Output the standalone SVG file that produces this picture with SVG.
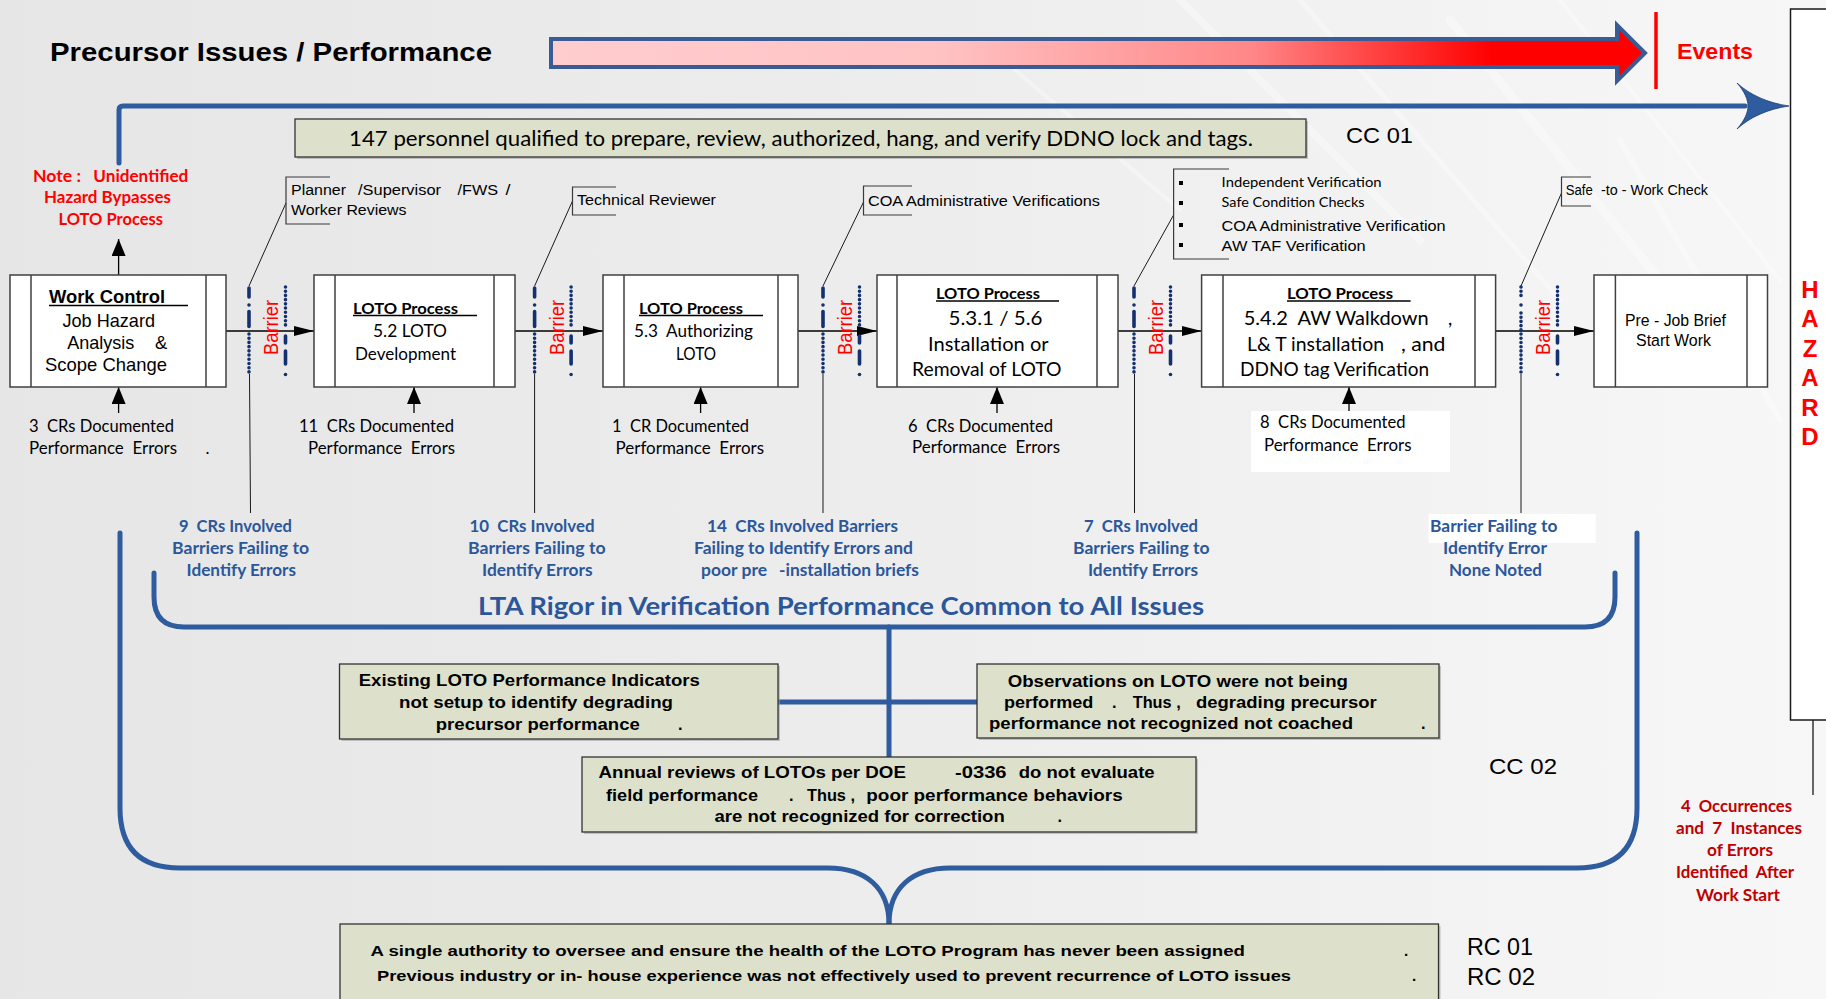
<svg xmlns="http://www.w3.org/2000/svg" width="1826" height="999" viewBox="0 0 1826 999">
  <defs>
    <linearGradient id="bgGrad" x1="0" y1="0" x2="1" y2="0">
      <stop offset="0" stop-color="#E6E6E6"/>
      <stop offset="0.5" stop-color="#EDEDED"/>
      <stop offset="1" stop-color="#F7F7F7"/>
    </linearGradient>
    <linearGradient id="eventGrad" gradientUnits="userSpaceOnUse" x1="551" y1="0" x2="1645" y2="0">
      <stop offset="0" stop-color="#FFCDCF"/>
      <stop offset="0.35" stop-color="#FFC3C4"/>
      <stop offset="0.64" stop-color="#FF8788"/>
      <stop offset="0.86" stop-color="#FF0000"/>
      <stop offset="1" stop-color="#FF0000"/>
    </linearGradient>
    <marker id="headH" viewBox="0 0 20 10" refX="20" refY="5" markerWidth="20" markerHeight="10" markerUnits="userSpaceOnUse" orient="auto">
      <path d="M0,0 L20,5 L0,10 Z" fill="#000"/>
    </marker>
    <marker id="headV" viewBox="0 0 17 14" refX="17" refY="7" markerWidth="17" markerHeight="14" markerUnits="userSpaceOnUse" orient="auto">
      <path d="M0,0 L17,7 L0,14 Z" fill="#000"/>
    </marker>
  </defs>
  <style>
    text { white-space: pre; }
    .ar { font-family: "Liberation Sans", Arial, sans-serif; }
    .ca { font-family: Lato, "Open Sans", sans-serif; }
    .b { font-weight: 700; }
    .box { fill: #FFFFFF; stroke: #404040; stroke-width: 1.5; }
    .div { stroke: #404040; stroke-width: 1.5; fill: none; }
    .ul { stroke: #000; stroke-width: 1.5; }
    .flow { stroke: #000; stroke-width: 1.3; fill: none; }
    .lead { stroke: #1A1A1A; stroke-width: 1; fill: none; }
    .brk { stroke: #3A3A3A; stroke-width: 1.2; fill: none; }
    .blue { stroke: #2E5C9E; stroke-width: 5; fill: none; stroke-linecap: round; }
    .note { fill: #DDE1CB; stroke: #333333; stroke-width: 1.3; }
    .shade { fill: #9A9A9A; opacity: 0.55; }
    .bar { stroke: #14306E; stroke-width: 3.6; fill: none; stroke-linecap: round; }
    .dots { stroke-dasharray: 0.01 4.2; }
    .btxt { fill: #FF0000; font-family: "Liberation Sans", Arial, sans-serif; font-size: 18px; }
    .inv { fill: #2B579A; font-family: Lato, "Open Sans", sans-serif; font-weight: 700; font-size: 16.3px; }
    .red { fill: #FF0000; }
    .dred { fill: #C00000; }
  </style>

  <!-- background -->
  <rect x="0" y="0" width="1826" height="999" fill="url(#bgGrad)"/>
  <g opacity="0.35" stroke="#FFFFFF" fill="none" stroke-linecap="round">
    <path d="M1180,0 L1420,240" stroke-width="8"/>
    <path d="M1300,0 L1560,300" stroke-width="5"/>
    <path d="M1450,20 L1700,330" stroke-width="9"/>
    <path d="M1560,0 L1780,280" stroke-width="4"/>
    <path d="M1620,140 L1780,420" stroke-width="6"/>
    <path d="M980,40 L1180,210" stroke-width="4"/>
  </g>

  <!-- header -->
  <g id="header">
    <text class="ar b" x="50" y="61" font-size="25.5" textLength="442" lengthAdjust="spacingAndGlyphs">Precursor Issues / Performance</text>
    <path d="M551,39 H1617 V25 L1645,53 L1617,81 V67 H551 Z" fill="url(#eventGrad)" stroke="#3A5C96" stroke-width="4" stroke-linejoin="miter"/>
    <line x1="1656" y1="12" x2="1656" y2="89" stroke="#FF0000" stroke-width="3.5"/>
    <text class="ar b red" x="1677" y="59" font-size="22.4" textLength="76" lengthAdjust="spacingAndGlyphs">Events</text>
  </g>

  <!-- hazard panel -->
  <g id="hazard">
    <rect x="1790.5" y="9" width="60" height="711" fill="#FFFFFF" stroke="#1A1A1A" stroke-width="1.5"/>
    <g class="ar b red" font-size="24" text-anchor="middle">
      <text x="1810" y="297.5">H</text>
      <text x="1810" y="327">A</text>
      <text x="1810" y="356.5">Z</text>
      <text x="1810" y="386">A</text>
      <text x="1810" y="415.5">R</text>
      <text x="1810" y="445">D</text>
    </g>
  </g>

  <!-- connectors -->
  <g id="connectors">
    <!-- blue timeline to hazard -->
    <path class="blue" d="M119,163 V110 Q119,106 123,106 H1745"/>
    <path d="M1789,106 C1768,103 1750,95 1737,83 C1745,92 1748,100 1748,106 C1748,112 1745,120 1737,129 C1750,117 1768,109 1789,106 Z" fill="#2E5C9E" stroke="#1F3F73" stroke-width="0.8"/>
    <line x1="1813" y1="720" x2="1813" y2="795" stroke="#1A1A1A" stroke-width="1.3"/>

    <!-- main flow -->
    <line class="flow" x1="226" y1="331" x2="314" y2="331" marker-end="url(#headH)"/>
    <line class="flow" x1="515" y1="331" x2="603" y2="331" marker-end="url(#headH)"/>
    <line class="flow" x1="798" y1="331" x2="877" y2="331" marker-end="url(#headH)"/>
    <line class="flow" x1="1118" y1="331" x2="1201.6" y2="331" marker-end="url(#headH)"/>
    <line class="flow" x1="1495.6" y1="331" x2="1594" y2="331" marker-end="url(#headH)"/>

    <!-- note and CR arrows -->
    <line class="flow" x1="118.6" y1="275" x2="118.6" y2="239" marker-end="url(#headV)"/>
    <line class="flow" x1="118.6" y1="413" x2="118.6" y2="387" marker-end="url(#headV)"/>
    <line class="flow" x1="414" y1="413" x2="414" y2="387" marker-end="url(#headV)"/>
    <line class="flow" x1="700.6" y1="413" x2="700.6" y2="387" marker-end="url(#headV)"/>
    <line class="flow" x1="997" y1="413" x2="997" y2="387" marker-end="url(#headV)"/>
    <line class="flow" x1="1349" y1="411" x2="1349" y2="387" marker-end="url(#headV)"/>

    <!-- barrier leaders up to callouts -->
    <line class="lead" x1="249" y1="286" x2="286" y2="203"/>
    <line class="lead" x1="534.6" y1="286" x2="572.5" y2="201"/>
    <line class="lead" x1="823" y1="286" x2="863.5" y2="202"/>
    <line class="lead" x1="1134" y1="286" x2="1173.6" y2="215"/>
    <line class="lead" x1="1521" y1="286" x2="1561.5" y2="193"/>

    <!-- barrier leaders down to findings -->
    <line class="lead" x1="249.5" y1="374" x2="250.5" y2="513"/>
    <line class="lead" x1="534.6" y1="374" x2="534.6" y2="513"/>
    <line class="lead" x1="823" y1="374" x2="823" y2="513"/>
    <line class="lead" x1="1134.5" y1="374" x2="1134.5" y2="513"/>
    <line class="lead" x1="1521" y1="374" x2="1521" y2="513"/>

    <!-- common-cause brackets -->
    <path class="blue" d="M120,533 V808 Q120,868 180,868 H828 C866,868 889,888 889,924"/>
    <path class="blue" d="M1637,533 V808 Q1637,868 1577,868 H950 C912,868 889,888 889,924"/>
    <path class="blue" d="M154,573 V597 Q154,627 184,627 H1585 Q1615,627 1615,597 V573"/>
    <line class="blue" x1="889" y1="627" x2="889" y2="757" stroke-linecap="butt"/>
    <line class="blue" x1="778" y1="702" x2="977" y2="702" stroke-linecap="butt"/>
  </g>

  <!-- CC 01 -->
  <g id="cc01-statement">
    <rect class="shade" x="297" y="121" width="1011" height="38"/>
    <rect class="note" x="295" y="119" width="1011" height="38"/>
    <text class="ca" x="349" y="146" font-size="22" textLength="904" lengthAdjust="spacingAndGlyphs">147 personnel qualified to prepare, review, authorized, hang, and verify DDNO lock and tags.</text>
  </g>
  <g id="cc01-label">
    <text class="ar" x="1346" y="143" font-size="22" textLength="67" lengthAdjust="spacingAndGlyphs">CC 01</text>
  </g>

  <!-- note above work control -->
  <g id="bypass-note" class="ca b red" font-size="17">
    <text x="33" y="181.7"><tspan x="33" textLength="48" lengthAdjust="spacingAndGlyphs">Note :</tspan><tspan x="93.3" textLength="95" lengthAdjust="spacingAndGlyphs">Unidentified</tspan></text>
    <text x="44" y="203.3" textLength="127" lengthAdjust="spacingAndGlyphs">Hazard Bypasses</text>
    <text x="58.5" y="225" textLength="104.5" lengthAdjust="spacingAndGlyphs">LOTO Process</text>
  </g>

  <!-- process steps -->
  <g id="work-control">
    <rect class="box" x="10" y="275" width="216" height="112"/>
    <line class="div" x1="31" y1="275" x2="31" y2="387"/>
    <line class="div" x1="206" y1="275" x2="206" y2="387"/>
    <text class="ar b" x="49" y="303" font-size="18.6" textLength="116" lengthAdjust="spacingAndGlyphs">Work Control</text>
    <line class="ul" x1="49" y1="305.5" x2="188" y2="305.5"/>
    <text class="ar" x="62.5" y="327" font-size="17.7" textLength="92.5" lengthAdjust="spacingAndGlyphs">Job Hazard</text>
    <text class="ar" y="348.5" font-size="17.7"><tspan x="67.2" textLength="67.2" lengthAdjust="spacingAndGlyphs">Analysis</tspan><tspan x="155" textLength="12.3" lengthAdjust="spacingAndGlyphs">&amp;</tspan></text>
    <text class="ar" x="45" y="371" font-size="17.7" textLength="122" lengthAdjust="spacingAndGlyphs">Scope Change</text>
  </g>

  <g id="loto-5-2">
    <rect class="box" x="314" y="275" width="201" height="112"/>
    <line class="div" x1="335" y1="275" x2="335" y2="387"/>
    <line class="div" x1="494" y1="275" x2="494" y2="387"/>
    <text class="ca b" x="353" y="313.5" font-size="15.4" textLength="105" lengthAdjust="spacingAndGlyphs">LOTO Process</text>
    <line class="ul" x1="353" y1="315.5" x2="477" y2="315.5"/>
    <text class="ca" x="373" y="337" font-size="17" textLength="74" lengthAdjust="spacingAndGlyphs">5.2 LOTO</text>
    <text class="ca" x="355" y="360" font-size="17" textLength="101" lengthAdjust="spacingAndGlyphs">Development</text>
  </g>

  <g id="loto-5-3">
    <rect class="box" x="603" y="275" width="195" height="112"/>
    <line class="div" x1="624" y1="275" x2="624" y2="387"/>
    <line class="div" x1="778" y1="275" x2="778" y2="387"/>
    <text class="ca b" x="639" y="313.5" font-size="15.4" textLength="104" lengthAdjust="spacingAndGlyphs">LOTO Process</text>
    <line class="ul" x1="639" y1="315.5" x2="763" y2="315.5"/>
    <text class="ca" x="634" y="337" font-size="17" textLength="119" lengthAdjust="spacingAndGlyphs">5.3  Authorizing</text>
    <text class="ca" x="676" y="360" font-size="17" textLength="40" lengthAdjust="spacingAndGlyphs">LOTO</text>
  </g>

  <g id="loto-5-3-1">
    <rect class="box" x="877" y="275" width="241" height="112"/>
    <line class="div" x1="897" y1="275" x2="897" y2="387"/>
    <line class="div" x1="1097" y1="275" x2="1097" y2="387"/>
    <text class="ca b" x="936" y="298.5" font-size="15.4" textLength="104" lengthAdjust="spacingAndGlyphs">LOTO Process</text>
    <line class="ul" x1="936" y1="301" x2="1059" y2="301"/>
    <text class="ca" x="948.5" y="325" font-size="18.6" textLength="94" lengthAdjust="spacingAndGlyphs">5.3.1 / 5.6</text>
    <text class="ca" x="928" y="351" font-size="18.6" textLength="120.6" lengthAdjust="spacingAndGlyphs">Installation or</text>
    <text class="ca" x="912" y="376" font-size="18.6" textLength="149.6" lengthAdjust="spacingAndGlyphs">Removal of LOTO</text>
  </g>

  <g id="loto-5-4-2">
    <rect class="box" x="1201.6" y="275" width="294" height="112"/>
    <line class="div" x1="1223" y1="275" x2="1223" y2="387"/>
    <line class="div" x1="1475" y1="275" x2="1475" y2="387"/>
    <text class="ca b" x="1287" y="298.5" font-size="15.4" textLength="106" lengthAdjust="spacingAndGlyphs">LOTO Process</text>
    <line class="ul" x1="1287" y1="301" x2="1410.6" y2="301"/>
    <text class="ca" y="325" font-size="18.6"><tspan x="1243.7" textLength="185" lengthAdjust="spacingAndGlyphs">5.4.2  AW Walkdown</tspan><tspan x="1448">,</tspan></text>
    <text class="ca" y="351" font-size="18.6"><tspan x="1247" textLength="137" lengthAdjust="spacingAndGlyphs">L&amp; T installation</tspan><tspan x="1401" textLength="44.5" lengthAdjust="spacingAndGlyphs">, and</tspan></text>
    <text class="ca" x="1240" y="376" font-size="18.6" textLength="189" lengthAdjust="spacingAndGlyphs">DDNO tag Verification</text>
  </g>

  <g id="pre-job">
    <rect class="box" x="1594" y="275" width="173.5" height="112"/>
    <line class="div" x1="1615.4" y1="275" x2="1615.4" y2="387"/>
    <line class="div" x1="1747" y1="275" x2="1747" y2="387"/>
    <text class="ar" x="1625" y="326" font-size="16.3" textLength="101" lengthAdjust="spacingAndGlyphs">Pre - Job Brief</text>
    <text class="ar" x="1636" y="345.5" font-size="16.3" textLength="75" lengthAdjust="spacingAndGlyphs">Start Work</text>
  </g>

  <!-- documented errors -->
  <g id="cr-work-control" class="ca" font-size="17">
    <text x="29" y="432" textLength="145" lengthAdjust="spacingAndGlyphs">3  CRs Documented</text>
    <text y="454"><tspan x="29" textLength="148" lengthAdjust="spacingAndGlyphs">Performance  Errors</tspan><tspan x="205.5">.</tspan></text>
  </g>
  <g id="cr-5-2" class="ca" font-size="17">
    <text x="299" y="432" textLength="155" lengthAdjust="spacingAndGlyphs">11  CRs Documented</text>
    <text x="308" y="454" textLength="147" lengthAdjust="spacingAndGlyphs">Performance  Errors</text>
  </g>
  <g id="cr-5-3" class="ca" font-size="17">
    <text x="612" y="432" textLength="137" lengthAdjust="spacingAndGlyphs">1  CR Documented</text>
    <text x="615.6" y="454" textLength="148.4" lengthAdjust="spacingAndGlyphs">Performance  Errors</text>
  </g>
  <g id="cr-5-3-1" class="ca" font-size="17">
    <text x="908" y="432" textLength="145" lengthAdjust="spacingAndGlyphs">6  CRs Documented</text>
    <text x="912" y="453" textLength="148" lengthAdjust="spacingAndGlyphs">Performance  Errors</text>
  </g>
  <g id="cr-5-4-2" class="ca" font-size="17">
    <rect x="1251" y="411" width="199" height="61" fill="#FFFFFF"/>
    <text x="1260" y="428" textLength="145.5" lengthAdjust="spacingAndGlyphs">8  CRs Documented</text>
    <text x="1264" y="451" textLength="147.5" lengthAdjust="spacingAndGlyphs">Performance  Errors</text>
  </g>

  <!-- barriers -->
  <g id="barrier-1">
    <line class="bar" x1="249" y1="288" x2="249" y2="297"/>
    <line class="bar" x1="249" y1="305" x2="249" y2="305.01"/>
    <line class="bar" x1="249" y1="311.5" x2="249" y2="326.5"/>
    <line class="bar dots" x1="249" y1="334" x2="249" y2="373"/>
    <line class="bar dots" x1="285.5" y1="287" x2="285.5" y2="325"/>
    <line class="bar" x1="285.5" y1="336" x2="285.5" y2="343"/>
    <line class="bar" x1="285.5" y1="351" x2="285.5" y2="364"/>
    <line class="bar" x1="285.5" y1="374.5" x2="285.5" y2="374.51"/>
    <text class="btxt" transform="translate(278.3,327.5) rotate(-90) scale(1,1.15)" text-anchor="middle" textLength="55" lengthAdjust="spacingAndGlyphs">Barrier</text>
  </g>
  <g id="barrier-2">
    <line class="bar" x1="534.6" y1="288" x2="534.6" y2="297"/>
    <line class="bar" x1="534.6" y1="305" x2="534.6" y2="305.01"/>
    <line class="bar" x1="534.6" y1="311.5" x2="534.6" y2="326.5"/>
    <line class="bar dots" x1="534.6" y1="334" x2="534.6" y2="373"/>
    <line class="bar dots" x1="571.1" y1="287" x2="571.1" y2="325"/>
    <line class="bar" x1="571.1" y1="336" x2="571.1" y2="343"/>
    <line class="bar" x1="571.1" y1="351" x2="571.1" y2="364"/>
    <line class="bar" x1="571.1" y1="374.5" x2="571.1" y2="374.51"/>
    <text class="btxt" transform="translate(563.9,327.5) rotate(-90) scale(1,1.15)" text-anchor="middle" textLength="55" lengthAdjust="spacingAndGlyphs">Barrier</text>
  </g>
  <g id="barrier-3">
    <line class="bar" x1="823" y1="288" x2="823" y2="297"/>
    <line class="bar" x1="823" y1="305" x2="823" y2="305.01"/>
    <line class="bar" x1="823" y1="311.5" x2="823" y2="326.5"/>
    <line class="bar dots" x1="823" y1="334" x2="823" y2="373"/>
    <line class="bar dots" x1="859.5" y1="287" x2="859.5" y2="325"/>
    <line class="bar" x1="859.5" y1="336" x2="859.5" y2="343"/>
    <line class="bar" x1="859.5" y1="351" x2="859.5" y2="364"/>
    <line class="bar" x1="859.5" y1="374.5" x2="859.5" y2="374.51"/>
    <text class="btxt" transform="translate(852.3,327.5) rotate(-90) scale(1,1.15)" text-anchor="middle" textLength="55" lengthAdjust="spacingAndGlyphs">Barrier</text>
  </g>
  <g id="barrier-4">
    <line class="bar" x1="1134" y1="288" x2="1134" y2="297"/>
    <line class="bar" x1="1134" y1="305" x2="1134" y2="305.01"/>
    <line class="bar" x1="1134" y1="311.5" x2="1134" y2="326.5"/>
    <line class="bar dots" x1="1134" y1="334" x2="1134" y2="373"/>
    <line class="bar dots" x1="1170.5" y1="287" x2="1170.5" y2="325"/>
    <line class="bar" x1="1170.5" y1="336" x2="1170.5" y2="343"/>
    <line class="bar" x1="1170.5" y1="351" x2="1170.5" y2="364"/>
    <line class="bar" x1="1170.5" y1="374.5" x2="1170.5" y2="374.51"/>
    <text class="btxt" transform="translate(1163.3,327.5) rotate(-90) scale(1,1.15)" text-anchor="middle" textLength="55" lengthAdjust="spacingAndGlyphs">Barrier</text>
  </g>
  <g id="barrier-5">
    <line class="bar dots" x1="1521" y1="287" x2="1521" y2="298"/>
    <line class="bar" x1="1521" y1="305" x2="1521" y2="305.01"/>
    <line class="bar dots" x1="1521" y1="313" x2="1521" y2="373"/>
    <line class="bar dots" x1="1557.5" y1="287" x2="1557.5" y2="325"/>
    <line class="bar" x1="1557.5" y1="336" x2="1557.5" y2="343"/>
    <line class="bar" x1="1557.5" y1="351" x2="1557.5" y2="364"/>
    <line class="bar" x1="1557.5" y1="374.5" x2="1557.5" y2="374.51"/>
    <text class="btxt" transform="translate(1550.3,327.5) rotate(-90) scale(1,1.15)" text-anchor="middle" textLength="55" lengthAdjust="spacingAndGlyphs">Barrier</text>
  </g>

  <!-- barrier callouts -->
  <g id="callout-1">
    <path class="brk" d="M330,177 H286 V224 H330"/>
    <text class="ar" y="195" font-size="14"><tspan x="291" textLength="55" lengthAdjust="spacingAndGlyphs">Planner</tspan><tspan x="358" textLength="83" lengthAdjust="spacingAndGlyphs">/Supervisor</tspan><tspan x="457.5" textLength="40.5" lengthAdjust="spacingAndGlyphs">/FWS</tspan><tspan x="505.5" textLength="5" lengthAdjust="spacingAndGlyphs">/</tspan></text>
    <text class="ar" x="291" y="215" font-size="14" textLength="115.5" lengthAdjust="spacingAndGlyphs">Worker Reviews</text>
  </g>
  <g id="callout-2">
    <path class="brk" d="M616,187 H572.5 V215 H616"/>
    <text class="ar" x="577" y="205" font-size="14" textLength="139" lengthAdjust="spacingAndGlyphs">Technical Reviewer</text>
  </g>
  <g id="callout-3">
    <path class="brk" d="M912,186 H863.5 V215 H912"/>
    <text class="ar" x="868" y="206" font-size="14" textLength="232" lengthAdjust="spacingAndGlyphs">COA Administrative Verifications</text>
  </g>
  <g id="callout-4">
    <path class="brk" d="M1229,169 H1173.6 V259 H1229"/>
    <rect x="1179" y="181" width="4" height="4" fill="#000"/>
    <rect x="1179" y="201" width="4" height="4" fill="#000"/>
    <rect x="1179" y="223" width="4" height="4" fill="#000"/>
    <rect x="1179" y="243" width="4" height="4" fill="#000"/>
    <text class="ca" x="1221.6" y="187" font-size="13" textLength="160" lengthAdjust="spacingAndGlyphs">Independent Verification</text>
    <text class="ca" x="1221.6" y="207" font-size="13" textLength="143" lengthAdjust="spacingAndGlyphs">Safe Condition Checks</text>
    <text class="ar" x="1221.6" y="230.7" font-size="15" textLength="224" lengthAdjust="spacingAndGlyphs">COA Administrative Verification</text>
    <text class="ar" x="1221.6" y="250.7" font-size="15" textLength="144" lengthAdjust="spacingAndGlyphs">AW TAF Verification</text>
  </g>
  <g id="callout-5">
    <path class="brk" d="M1591,177 H1561.5 V206 H1591"/>
    <text class="ar" y="195" font-size="14"><tspan x="1565.7" textLength="27" lengthAdjust="spacingAndGlyphs">Safe</tspan><tspan x="1601" textLength="107" lengthAdjust="spacingAndGlyphs">-to - Work Check</tspan></text>
  </g>

  <!-- barrier findings -->
  <g id="finding-1" class="inv">
    <text x="179" y="532" textLength="113" lengthAdjust="spacingAndGlyphs">9  CRs Involved</text>
    <text x="172" y="554" textLength="137" lengthAdjust="spacingAndGlyphs">Barriers Failing to</text>
    <text x="186.6" y="576" textLength="109.4" lengthAdjust="spacingAndGlyphs">Identify Errors</text>
  </g>
  <g id="finding-2" class="inv">
    <text x="469.5" y="532" textLength="125" lengthAdjust="spacingAndGlyphs">10  CRs Involved</text>
    <text x="468" y="554" textLength="137.6" lengthAdjust="spacingAndGlyphs">Barriers Failing to</text>
    <text x="482" y="576" textLength="110.7" lengthAdjust="spacingAndGlyphs">Identify Errors</text>
  </g>
  <g id="finding-3" class="inv">
    <text x="707" y="532" textLength="191" lengthAdjust="spacingAndGlyphs">14  CRs Involved Barriers</text>
    <text x="694" y="554" textLength="219" lengthAdjust="spacingAndGlyphs">Failing to Identify Errors and</text>
    <text y="576"><tspan x="701" textLength="66" lengthAdjust="spacingAndGlyphs">poor pre</tspan><tspan x="779" textLength="140" lengthAdjust="spacingAndGlyphs">-installation briefs</tspan></text>
  </g>
  <g id="finding-4" class="inv">
    <text x="1084" y="532" textLength="114" lengthAdjust="spacingAndGlyphs">7  CRs Involved</text>
    <text x="1073" y="554" textLength="136.5" lengthAdjust="spacingAndGlyphs">Barriers Failing to</text>
    <text x="1088" y="576" textLength="110" lengthAdjust="spacingAndGlyphs">Identify Errors</text>
  </g>
  <g id="finding-5" class="inv">
    <rect x="1428.6" y="514" width="167.2" height="29" fill="#FFFFFF"/>
    <text x="1430" y="532" textLength="127.4" lengthAdjust="spacingAndGlyphs">Barrier Failing to</text>
    <text x="1443" y="554" textLength="104" lengthAdjust="spacingAndGlyphs">Identify Error</text>
    <text x="1449" y="576" textLength="93" lengthAdjust="spacingAndGlyphs">None Noted</text>
  </g>

  <g id="common-theme">
    <text class="ca b" x="478" y="615" font-size="24" fill="#2B579A" textLength="726" lengthAdjust="spacingAndGlyphs">LTA Rigor in Verification Performance Common to All Issues</text>
  </g>

  <!-- contributing causes -->
  <g id="indicators" class="ar b" font-size="16.3">
    <rect class="shade" x="341.5" y="666" width="438.5" height="75"/>
    <rect class="note" x="339.5" y="664" width="438.5" height="75"/>
    <text x="358.7" y="686" textLength="341.2" lengthAdjust="spacingAndGlyphs">Existing LOTO Performance Indicators</text>
    <text x="399" y="708" textLength="274" lengthAdjust="spacingAndGlyphs">not setup to identify degrading</text>
    <text y="730"><tspan x="435.8" textLength="204" lengthAdjust="spacingAndGlyphs">precursor performance</tspan><tspan x="678">.</tspan></text>
  </g>
  <g id="observations" class="ar b" font-size="16.3">
    <rect class="shade" x="979" y="666" width="462" height="74"/>
    <rect class="note" x="977" y="664" width="462" height="74"/>
    <text x="1007.7" y="686.7" textLength="340.3" lengthAdjust="spacingAndGlyphs">Observations on LOTO were not being</text>
    <text y="708.3"><tspan x="1004" textLength="89.3" lengthAdjust="spacingAndGlyphs">performed</tspan><tspan x="1112">.</tspan><tspan x="1132.7" textLength="48" lengthAdjust="spacingAndGlyphs">Thus ,</tspan><tspan x="1196" textLength="180.7" lengthAdjust="spacingAndGlyphs">degrading precursor</tspan></text>
    <text y="729"><tspan x="989" textLength="364" lengthAdjust="spacingAndGlyphs">performance not recognized not coached</tspan><tspan x="1421">.</tspan></text>
  </g>
  <g id="annual-reviews" class="ar b" font-size="16.3">
    <rect class="shade" x="584" y="759" width="614" height="75"/>
    <rect class="note" x="582" y="757" width="614" height="75"/>
    <text y="778"><tspan x="598.5" textLength="307.4" lengthAdjust="spacingAndGlyphs">Annual reviews of LOTOs per DOE</tspan><tspan x="955" textLength="51.6" lengthAdjust="spacingAndGlyphs">-0336</tspan><tspan x="1018.8" textLength="135.8" lengthAdjust="spacingAndGlyphs">do not evaluate</tspan></text>
    <text y="800.7"><tspan x="606" textLength="152" lengthAdjust="spacingAndGlyphs">field performance</tspan><tspan x="789">.</tspan><tspan x="807" textLength="48" lengthAdjust="spacingAndGlyphs">Thus ,</tspan><tspan x="866.3" textLength="256.4" lengthAdjust="spacingAndGlyphs">poor performance behaviors</tspan></text>
    <text y="822"><tspan x="714.5" textLength="290.2" lengthAdjust="spacingAndGlyphs">are not recognized for correction</tspan><tspan x="1057.5">.</tspan></text>
  </g>
  <g id="cc02-label">
    <text class="ar" x="1489" y="774" font-size="22" textLength="68" lengthAdjust="spacingAndGlyphs">CC 02</text>
  </g>

  <!-- root causes -->
  <g id="root-causes" class="ar b" font-size="15.2">
    <rect class="shade" x="342" y="926" width="1098.5" height="76"/>
    <rect class="note" x="340" y="924" width="1098.5" height="76"/>
    <text y="955.7"><tspan x="370.5" textLength="874.5" lengthAdjust="spacingAndGlyphs">A single authority to oversee and ensure the health of the LOTO Program has never been assigned</tspan><tspan x="1404">.</tspan></text>
    <text y="980.7"><tspan x="377" textLength="914" lengthAdjust="spacingAndGlyphs">Previous industry or in- house experience was not effectively used to prevent recurrence of LOTO issues</tspan><tspan x="1412">.</tspan></text>
  </g>
  <g id="rc-labels" class="ar" font-size="23">
    <text x="1467" y="955" textLength="66" lengthAdjust="spacingAndGlyphs">RC 01</text>
    <text x="1467" y="985" textLength="68" lengthAdjust="spacingAndGlyphs">RC 02</text>
  </g>

  <!-- late identified errors -->
  <g id="late-errors" class="ca b dred" font-size="16.3">
    <text x="1681" y="811.7" textLength="111" lengthAdjust="spacingAndGlyphs">4  Occurrences</text>
    <text x="1676" y="834" textLength="126" lengthAdjust="spacingAndGlyphs">and  7  Instances</text>
    <text x="1707" y="856" textLength="66" lengthAdjust="spacingAndGlyphs">of Errors</text>
    <text x="1676" y="877.7" textLength="118" lengthAdjust="spacingAndGlyphs">Identified  After</text>
    <text x="1696" y="900.7" textLength="84" lengthAdjust="spacingAndGlyphs">Work Start</text>
  </g>
</svg>
